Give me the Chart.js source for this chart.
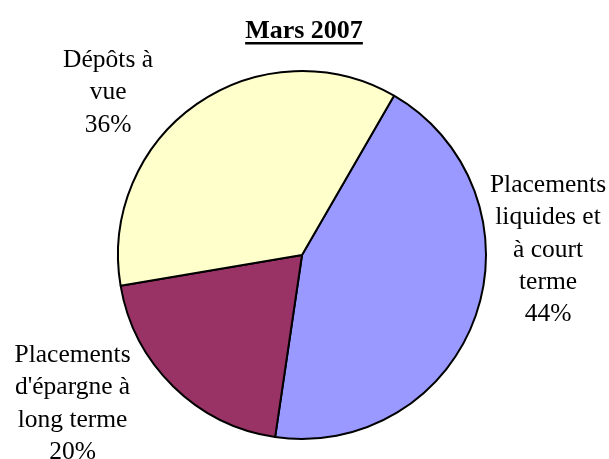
<!DOCTYPE html>
<html>
<head>
<meta charset="utf-8">
<script src="https://cdn.jsdelivr.net/npm/chart.js@4"></script>
<style>
  html, body { margin: 0; padding: 0; background: #fff; }
  #wrap { width: 609px; height: 459px; }
</style>
</head>
<body>
<div id="wrap"><canvas id="myChart" width="609" height="459"></canvas></div>
<script>
const title = "Mars 2007";
const labels = [
  ["Placements", "liquides et", "à court", "terme"],
  ["Placements", "d'épargne à", "long terme"],
  ["Dépôts à", "vue"],
];
const values = [44, 20, 36];
const colors = ["#9999FF", "#993366", "#FFFFCC"];

// first baseline of each label block, relative to the pie centre, in radii
const labelSpots = [
  { x: 1.337, y: -0.342 },
  { x: -1.247, y: 0.582 },
  { x: -1.054, y: -1.022 },
];

const serif = "'Liberation Serif', 'Times New Roman', serif";

const pieText = {
  id: "pieText",
  afterDraw(chart) {
    const ctx = chart.ctx;
    const arc = chart.getDatasetMeta(0).data[0];
    const cx = arc.x;
    const cy = arc.y;
    const r = arc.outerRadius;
    const total = values.reduce((a, b) => a + b, 0);
    const lineH = 32.3;

    ctx.save();
    ctx.fillStyle = "#000";
    ctx.textAlign = "center";
    ctx.textBaseline = "alphabetic";

    // title, bold and underlined
    ctx.font = "bold 26px " + serif;
    const tw = ctx.measureText(title).width;
    ctx.fillText(title, cx + 2, 38);
    ctx.fillRect(cx + 2 - tw / 2, 42, tw, 2.5);

    ctx.font = "25.5px " + serif;
    for (let i = 0; i < labels.length; i++) {
      const lines = labels[i].concat([Math.round(values[i] / total * 100) + "%"]);
      const bx = cx + labelSpots[i].x * r;
      const by = cy + labelSpots[i].y * r;
      for (let j = 0; j < lines.length; j++) {
        ctx.fillText(lines[j], bx, by + j * lineH);
      }
    }
    ctx.restore();
  },
};

new Chart(document.getElementById("myChart"), {
  type: "pie",
  data: {
    labels: labels.map(l => l.join(" ")),
    datasets: [{
      data: values,
      backgroundColor: colors,
      borderColor: "#000",
      borderWidth: 2,
      borderAlign: "center",
    }],
  },
  options: {
    responsive: false,
    animation: false,
    rotation: 30,
    layout: { padding: { left: 117, right: 122, top: 70, bottom: 19 } },
    plugins: {
      legend: { display: false },
      tooltip: { enabled: false },
      title: { display: false },
    },
  },
  plugins: [pieText],
});
</script>
</body>
</html>
